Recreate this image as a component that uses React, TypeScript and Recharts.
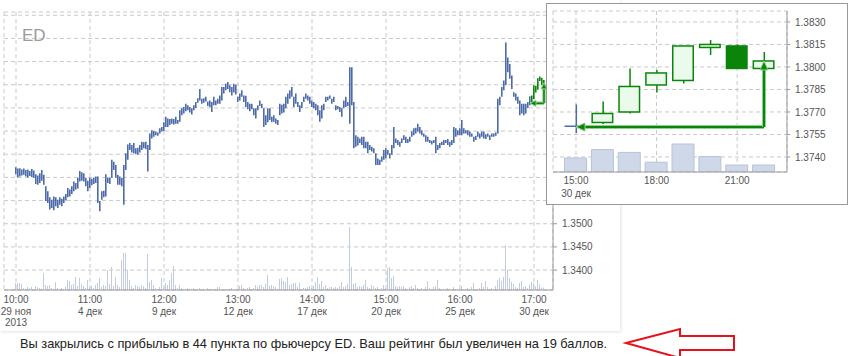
import React from "react";
import {
  ComposedChart,
  Bar,
  XAxis,
  YAxis,
  CartesianGrid,
  Cell,
  ReferenceLine,
} from "recharts";

// hourly bars ED, 29 ноя 10:00 ... 30 дек 22:00
const highs = [
  1.3622, 1.3619, 1.362, 1.3617, 1.3619, 1.3616, 1.3617, 1.3614, 1.3618, 1.3615,
  1.3607, 1.3604, 1.3609, 1.3616, 1.3606, 1.3581, 1.357, 1.3557, 1.3552, 1.3559,
  1.3557, 1.3552, 1.3557, 1.3554, 1.3559, 1.3564, 1.3577, 1.3574, 1.3581, 1.3591,
  1.3588, 1.3599, 1.3614, 1.3611, 1.3609, 1.3599, 1.3593, 1.3599, 1.3597, 1.36,
  1.3602, 1.3602, 1.3549, 1.357, 1.3571, 1.3607, 1.36, 1.3599, 1.3638, 1.3634,
  1.3627, 1.3606, 1.3602, 1.3599, 1.3627, 1.3652, 1.3671, 1.3674, 1.367, 1.3674,
  1.3663, 1.3664, 1.367, 1.3677, 1.3676, 1.3677, 1.367, 1.3695, 1.3702, 1.37,
  1.3699, 1.3697, 1.3706, 1.3709, 1.3719, 1.3731, 1.3727, 1.3726, 1.3727, 1.3726,
  1.3731, 1.3724, 1.3745, 1.3749, 1.3752, 1.3759, 1.3756, 1.3752, 1.3749, 1.3756,
  1.3763, 1.3771, 1.3791, 1.377, 1.3771, 1.3774, 1.3764, 1.3766, 1.3763, 1.3774,
  1.3766, 1.377, 1.3777, 1.3795, 1.3795, 1.3802, 1.3806, 1.3799, 1.3795, 1.3802,
  1.38, 1.3774, 1.3781, 1.3788, 1.3777, 1.3776, 1.3763, 1.3759, 1.3759, 1.3749,
  1.3749, 1.3756, 1.3766, 1.3759, 1.3749, 1.3734, 1.3749, 1.3749, 1.3731, 1.3734,
  1.3727, 1.3724, 1.3759, 1.3757, 1.3759, 1.3774, 1.3781, 1.3788, 1.3795, 1.3774,
  1.3781, 1.3763, 1.3756, 1.3763, 1.3774, 1.3781, 1.3777, 1.3774, 1.3766, 1.3763,
  1.3759, 1.3756, 1.3745, 1.3756, 1.3759, 1.3774, 1.3774, 1.3777, 1.377, 1.3774,
  1.3756, 1.3754, 1.3752, 1.3749, 1.3766, 1.3774, 1.3763, 1.3838, 1.3838, 1.3763,
  1.3691, 1.3688, 1.3684, 1.3688, 1.3688, 1.3677, 1.3677, 1.367, 1.3666, 1.3663,
  1.3652, 1.3641, 1.3638, 1.3645, 1.3659, 1.3663, 1.3659, 1.3652, 1.367, 1.3709,
  1.3684, 1.3681, 1.3677, 1.3684, 1.3691, 1.3688, 1.3683, 1.3688, 1.3699, 1.3706,
  1.3707, 1.3716, 1.3709, 1.3702, 1.3695, 1.3691, 1.3688, 1.3681, 1.3679, 1.3681,
  1.3688, 1.367, 1.3674, 1.3677, 1.3681, 1.3681, 1.3683, 1.3677, 1.3681, 1.3709,
  1.3706, 1.3702, 1.3706, 1.3724, 1.3706, 1.3702, 1.3702, 1.3699, 1.3695, 1.3688,
  1.369, 1.3699, 1.3695, 1.3699, 1.3699, 1.3693, 1.3695, 1.3691, 1.3695, 1.3695,
  1.3697, 1.377, 1.3774, 1.3795, 1.3809, 1.3891, 1.3859, 1.3845, 1.382, 1.3784,
  1.3781, 1.3774, 1.3766, 1.3759, 1.3759, 1.3759, 1.3763,
  1.3775, 1.3777, 1.3799, 1.3798, 1.3814, 1.3818, 1.3815, 1.381,
];

const lows = [
  1.3607, 1.36, 1.3602, 1.3604, 1.3606, 1.3602, 1.36, 1.3603, 1.3601, 1.3599,
  1.3586, 1.3584, 1.3588, 1.3593, 1.3584, 1.3549, 1.3545, 1.3531, 1.3534, 1.3529,
  1.3538, 1.3534, 1.3541, 1.3538, 1.3545, 1.355, 1.3557, 1.3559, 1.3564, 1.357,
  1.3574, 1.3576, 1.3591, 1.3593, 1.3591, 1.3581, 1.357, 1.3577, 1.3583, 1.3586,
  1.3588, 1.3545, 1.3527, 1.3552, 1.3557, 1.3559, 1.3588, 1.3586, 1.3599, 1.3616,
  1.3599, 1.3584, 1.3584, 1.3581, 1.3541, 1.3616, 1.3638, 1.3659, 1.3654, 1.3652,
  1.365, 1.3649, 1.3654, 1.3659, 1.3663, 1.3661, 1.3613, 1.3659, 1.3684, 1.3688,
  1.3691, 1.369, 1.3695, 1.3699, 1.37, 1.3709, 1.3709, 1.3713, 1.3716, 1.3714,
  1.3716, 1.3716, 1.372, 1.3734, 1.3738, 1.3743, 1.3745, 1.374, 1.3736, 1.3745,
  1.375, 1.3761, 1.3766, 1.3759, 1.3761, 1.3764, 1.3754, 1.3752, 1.3741, 1.3756,
  1.3756, 1.3759, 1.3759, 1.3766, 1.3781, 1.3788, 1.3791, 1.3784, 1.3777, 1.3783,
  1.3779, 1.3763, 1.3766, 1.3774, 1.3763, 1.3752, 1.3747, 1.3743, 1.3747, 1.3734,
  1.3727, 1.3745, 1.3754, 1.3749, 1.3709, 1.3713, 1.3719, 1.3724, 1.3719, 1.372,
  1.3716, 1.3713, 1.3734, 1.3738, 1.374, 1.3749, 1.3759, 1.377, 1.3774, 1.3752,
  1.3759, 1.3752, 1.3741, 1.375, 1.3763, 1.377, 1.3766, 1.3759, 1.3752, 1.3749,
  1.3745, 1.3734, 1.372, 1.3727, 1.3745, 1.3763, 1.3766, 1.377, 1.3759, 1.3763,
  1.3745, 1.3747, 1.3741, 1.3731, 1.3749, 1.3752, 1.3754, 1.3716, 1.3756, 1.3663,
  1.3666, 1.3669, 1.3674, 1.367, 1.3663, 1.3663, 1.3652, 1.3659, 1.3656, 1.3652,
  1.3627, 1.3627, 1.3627, 1.3634, 1.3638, 1.3641, 1.3649, 1.3641, 1.3649, 1.3663,
  1.3674, 1.367, 1.3666, 1.3674, 1.3681, 1.3674, 1.3674, 1.3677, 1.3688, 1.3691,
  1.3695, 1.3699, 1.3695, 1.3691, 1.3688, 1.3677, 1.3677, 1.3674, 1.3671, 1.3674,
  1.3652, 1.3659, 1.3663, 1.367, 1.367, 1.3674, 1.367, 1.3666, 1.367, 1.3674,
  1.3688, 1.3691, 1.3691, 1.3691, 1.3695, 1.3695, 1.3691, 1.3688, 1.3688, 1.3677,
  1.3681, 1.3688, 1.3684, 1.3688, 1.3684, 1.3683, 1.3688, 1.3681, 1.3688, 1.3688,
  1.369, 1.3695, 1.3756, 1.3774, 1.3788, 1.3799, 1.3827, 1.3813, 1.3791, 1.3774,
  1.3766, 1.3759, 1.3734, 1.3738, 1.3734, 1.3738, 1.375,
  1.3756, 1.3762, 1.3769, 1.3783, 1.3789, 1.3808, 1.3799, 1.3799,
];

const volumes = [
  7, 7, 7, 6, 2, 1, 3, 2, 3, 1,
  4, 3, 2, 1, 17, 5, 4, 5, 2, 1,
  8, 2, 1, 2, 1, 3, 10, 9, 5, 6,
  13, 4, 12, 6, 4, 2, 10, 3, 4, 2,
  5, 7, 12, 3, 5, 4, 20, 6, 23, 4,
  13, 5, 3, 30, 37, 37, 20, 10, 4, 2,
  5, 4, 3, 5, 4, 2, 36, 8, 10, 5,
  2, 1, 3, 12, 3, 7, 5, 10, 17, 24,
  5, 2, 5, 2, 1, 1, 2, 1, 1, 2,
  1, 1, 2, 1, 1, 1, 2, 1, 1, 1,
  1, 3, 3, 1, 1, 1, 1, 1, 2, 1,
  1, 1, 4, 5, 2, 1, 2, 3, 1, 2,
  5, 3, 5, 5, 3, 6, 15, 4, 5, 4,
  3, 1, 11, 12, 9, 8, 13, 5, 6, 7,
  7, 3, 7, 1, 2, 2, 3, 4, 2, 4,
  8, 13, 6, 9, 3, 5, 2, 3, 3, 2,
  3, 2, 4, 8, 3, 4, 6, 63, 23, 6,
  7, 3, 4, 3, 5, 10, 3, 2, 5, 4,
  2, 3, 1, 2, 5, 2, 22, 23, 12, 14,
  4, 3, 4, 3, 4, 2, 1, 3, 4, 2,
  5, 2, 1, 2, 1, 3, 9, 2, 1, 3,
  4, 10, 2, 1, 1, 1, 2, 1, 1, 3,
  1, 1, 1, 4, 1, 1, 2, 1, 3, 7,
  1, 1, 2, 7, 3, 9, 3, 1, 2, 1,
  4, 10, 12, 9, 13, 45, 20, 12, 8, 6,
  3, 2, 7, 9, 3, 4, 2,
  5, 8, 7, 3.5, 10, 5.5, 2.5, 2.5,
];

// last hours, 30 дек (zoom box)
const hourLabels = ["15:00", "16:00", "17:00", "18:00", "19:00", "20:00", "21:00", "22:00"];
const hourOpens = [1.376, 1.3763, 1.377, 1.3788, 1.3791, 1.3813, 1.3814, 1.3799];
const hourCloses = [1.3761, 1.3769, 1.3787, 1.3796, 1.3814, 1.3815, 1.3799, 1.3804];
const zoomDate = "30 дек";

const entryPrice = 1.376;
const exitPrice = 1.3804;

const mainTicks = [0, 37, 74, 111, 148, 185, 222, 259];
const mainTickLabels = [
  ["10:00", "29 ноя", "2013"],
  ["11:00", "4 дек"],
  ["12:00", "9 дек"],
  ["13:00", "12 дек"],
  ["14:00", "17 дек"],
  ["15:00", "20 дек"],
  ["16:00", "25 дек"],
  ["17:00", "30 дек"],
];
const priceTicks = [1.34, 1.345, 1.35, 1.355, 1.36, 1.365, 1.37, 1.375, 1.38, 1.385, 1.39, 1.395];
// labels above this are hidden under the zoom box
const lastShownPrice = 1.35;
const zoomPriceTicks = [1.374, 1.3755, 1.377, 1.3785, 1.38, 1.3815, 1.383];
const zoomTicks = [0, 3, 6];

const BLUE = "#4d6bab";
const GREEN = "#0a850a";
const GRID = "#c9c9c9";
const AXIS = "#9a9a9a";
const TEXT = "#555";

const entryIndex = highs.length - hourLabels.length;
const exitIndex = highs.length - 1;

const mainData = highs.map((h, i) => ({
  i,
  range: [lows[i], h],
  vol: volumes[i],
  green: i > entryIndex,
}));

const zoomData = hourLabels.map((label, k) => {
  const i = entryIndex + k;
  const o = hourOpens[k];
  const c = hourCloses[k];
  return {
    k,
    label,
    body: [Math.min(o, c), Math.max(o, c)],
    wick: [lows[i], highs[i]],
    vol: volumes[i],
    up: c >= o,
    first: k === 0,
  };
});

function arrow(head: number, half: number, w: number) {
  return (p: any) => {
    const { x1, y1, x2, y2 } = p;
    const dx = x2 - x1;
    const dy = y2 - y1;
    const len = Math.hypot(dx, dy) || 1;
    const ux = dx / len;
    const uy = dy / len;
    const bx = x2 - ux * head;
    const by = y2 - uy * head;
    const pts = `${x2},${y2} ${bx - uy * half},${by + ux * half} ${bx + uy * half},${by - ux * half}`;
    return (
      <g>
        <line x1={x1} y1={y1} x2={bx} y2={by} stroke="#8ed08e" strokeWidth={w + 2} />
        <line x1={x1} y1={y1} x2={bx} y2={by} stroke={GREEN} strokeWidth={w} />
        <polygon points={pts} fill={GREEN} stroke="#8ed08e" strokeWidth={1} />
      </g>
    );
  };
}

const MainTick = (props: any) => {
  const { x, y, payload } = props;
  const lines = mainTickLabels[mainTicks.indexOf(payload.value)] || [];
  return (
    <text x={x} y={y} textAnchor="middle" fill={TEXT} fontSize={10}>
      {lines.map((l, k) => (
        <tspan key={k} x={x} dy={k === 0 ? 5 : 11.5}>
          {l}
        </tspan>
      ))}
    </text>
  );
};

const ZoomTick = (props: any) => {
  const { x, y, payload } = props;
  return (
    <text x={x} y={y} textAnchor="middle" fill={TEXT} fontSize={10}>
      <tspan x={x} dy={4}>{hourLabels[payload.value]}</tspan>
      {payload.value === 0 && (
        <tspan x={x} dy={13}>
          {zoomDate}
        </tspan>
      )}
    </text>
  );
};

const Body = (p: any) => {
  const { x, y, width, height, payload } = p;
  if (payload.first) {
    return <rect x={x} y={y} width={width} height={Math.max(height, 1.5)} fill={BLUE} />;
  }
  return (
    <rect
      x={x + 0.75}
      y={y}
      width={width - 1.5}
      height={Math.max(height, 1)}
      fill={payload.up ? "#ebfbeb" : GREEN}
      stroke={GREEN}
      strokeWidth={1.5}
    />
  );
};

function MainChart() {
  return (
    <ComposedChart
      width={620}
      height={335}
      data={mainData}
      margin={{ top: 12, right: 17, bottom: 5, left: 4 }}
    >
      <CartesianGrid stroke={GRID} strokeDasharray="4 3" />
      <XAxis
        dataKey="i"
        type="number"
        domain={[-6, 268.5]}
        allowDataOverflow
        ticks={mainTicks}
        interval={0}
        tick={<MainTick />}
        tickLine={false}
        axisLine={{ stroke: AXIS }}
        height={40}
      />
      <XAxis
        xAxisId="top"
        orientation="top"
        type="number"
        domain={[-6, 268.5]}
        allowDataOverflow
        tick={false}
        tickLine={false}
        axisLine={{ stroke: AXIS }}
        height={0}
      />
      <XAxis xAxisId="vol" dataKey="i" type="number" domain={[-6, 268.5]} allowDataOverflow hide />
      <YAxis
        orientation="right"
        domain={[1.3357, 1.3957]}
        allowDataOverflow
        ticks={priceTicks}
        interval={0}
        tickFormatter={(v: number) => (v <= lastShownPrice + 1e-9 ? v.toFixed(4) : "")}
        tick={{ fill: TEXT, fontSize: 10 }}
        tickSize={4}
        tickMargin={5}
        tickLine={{ stroke: AXIS }}
        axisLine={{ stroke: AXIS }}
        width={50}
      />
      <YAxis
        yAxisId="left"
        orientation="left"
        domain={[0, 1]}
        tick={false}
        tickLine={false}
        axisLine={{ stroke: AXIS }}
        width={0}
      />
      <YAxis yAxisId="vol" domain={[0, 278]} allowDataOverflow hide />
      <Bar
        xAxisId="vol"
        yAxisId="vol"
        dataKey="vol"
        barSize={1}
        fill="#c2cce0"
        isAnimationActive={false}
      />
      <Bar dataKey="range" barSize={1.6} isAnimationActive={false}>
        {mainData.map((d) => (
          <Cell key={d.i} fill={d.green ? GREEN : BLUE} />
        ))}
      </Bar>
      <ReferenceLine
        segment={[
          { x: exitIndex, y: entryPrice },
          { x: entryIndex, y: entryPrice },
        ]}
        shape={arrow(6, 3, 1.5)}
      />
      <ReferenceLine
        segment={[
          { x: exitIndex, y: entryPrice },
          { x: exitIndex, y: exitPrice },
        ]}
        shape={arrow(6, 3, 1.5)}
      />
    </ComposedChart>
  );
}

function ZoomChart() {
  return (
    <ComposedChart
      width={300}
      height={200}
      data={zoomData}
      margin={{ top: 7, right: 5, bottom: 2, left: 6 }}
    >
      <CartesianGrid stroke={GRID} strokeDasharray="4 3" />
      <XAxis
        dataKey="k"
        type="number"
        domain={[-0.856, 7.856]}
        allowDataOverflow
        ticks={zoomTicks}
        interval={0}
        tick={<ZoomTick />}
        tickLine={false}
        axisLine={{ stroke: AXIS }}
        height={30}
      />
      <XAxis
        xAxisId="top"
        orientation="top"
        type="number"
        domain={[-0.856, 7.856]}
        allowDataOverflow
        tick={false}
        tickLine={false}
        axisLine={{ stroke: AXIS }}
        height={0}
      />
      <XAxis xAxisId="wick" dataKey="k" type="number" domain={[-0.856, 7.856]} allowDataOverflow hide />
      <XAxis xAxisId="vol" dataKey="k" type="number" domain={[-0.856, 7.856]} allowDataOverflow hide />
      <YAxis
        orientation="right"
        domain={[1.373, 1.38373]}
        allowDataOverflow
        ticks={zoomPriceTicks}
        interval={0}
        tickFormatter={(v: number) => v.toFixed(4)}
        tick={{ fill: TEXT, fontSize: 10 }}
        tickSize={3}
        tickMargin={5}
        tickLine={{ stroke: AXIS }}
        axisLine={{ stroke: AXIS }}
        width={55}
      />
      <YAxis
        yAxisId="left"
        orientation="left"
        domain={[0, 1]}
        tick={false}
        tickLine={false}
        axisLine={{ stroke: AXIS }}
        width={0}
      />
      <YAxis yAxisId="vol" domain={[0, 57.5]} allowDataOverflow hide />
      <Bar
        xAxisId="vol"
        yAxisId="vol"
        dataKey="vol"
        barSize={22}
        fill="#cfd8e8"
        stroke="#b7c3da"
        isAnimationActive={false}
      />
      <Bar xAxisId="wick" dataKey="wick" barSize={1.5} isAnimationActive={false}>
        {zoomData.map((d) => (
          <Cell key={d.k} fill={d.first ? BLUE : GREEN} />
        ))}
      </Bar>
      <Bar dataKey="body" barSize={22} shape={<Body />} isAnimationActive={false} />
      <ReferenceLine
        segment={[
          { x: 7, y: entryPrice },
          { x: 0, y: entryPrice },
        ]}
        shape={arrow(9, 4, 2)}
      />
      <ReferenceLine
        segment={[
          { x: 7, y: entryPrice },
          { x: 7, y: exitPrice },
        ]}
        shape={arrow(9, 4, 2)}
      />
    </ComposedChart>
  );
}

export default function App() {
  return (
    <div
      style={{
        position: "absolute",
        left: 0,
        top: 0,
        width: 861,
        height: 356,
        overflow: "hidden",
        background: "#fff",
        fontFamily: '"Liberation Sans", Arial, sans-serif',
      }}
    >
      <div
        style={{
          position: "absolute",
          left: 0,
          top: 0,
          width: 620,
          height: 331,
          boxShadow: "1px 1px 3px rgba(0,0,0,0.12)",
        }}
      />
      <div style={{ position: "absolute", left: 0, top: 0 }}>
        <MainChart />
      </div>
      <div
        style={{
          position: "absolute",
          left: 22,
          top: 27,
          fontSize: 17,
          lineHeight: 1,
          color: "#9b9b9b",
        }}
      >
        ED
      </div>
      <div
        style={{
          position: "absolute",
          left: 546,
          top: 3,
          width: 300,
          height: 200,
          border: "1px solid #999",
          background: "#fff",
        }}
      >
        <ZoomChart />
      </div>
      <div
        style={{
          position: "absolute",
          left: 20,
          top: 338,
          fontSize: 12.8,
          lineHeight: 1,
          color: "#222",
          whiteSpace: "nowrap",
        }}
      >
        Вы закрылись с прибылью в 44 пункта по фьючерсу ED. Ваш рейтинг был увеличен на 19 баллов.
      </div>
      <svg
        width={130}
        height={40}
        style={{ position: "absolute", left: 615, top: 320 }}
      >
        <polygon
          points="11,23 65,9 65,16 119,16 119,30 65,30 65,38"
          fill="#fff"
          stroke="#e3121b"
          strokeWidth={2}
        />
      </svg>
    </div>
  );
}
